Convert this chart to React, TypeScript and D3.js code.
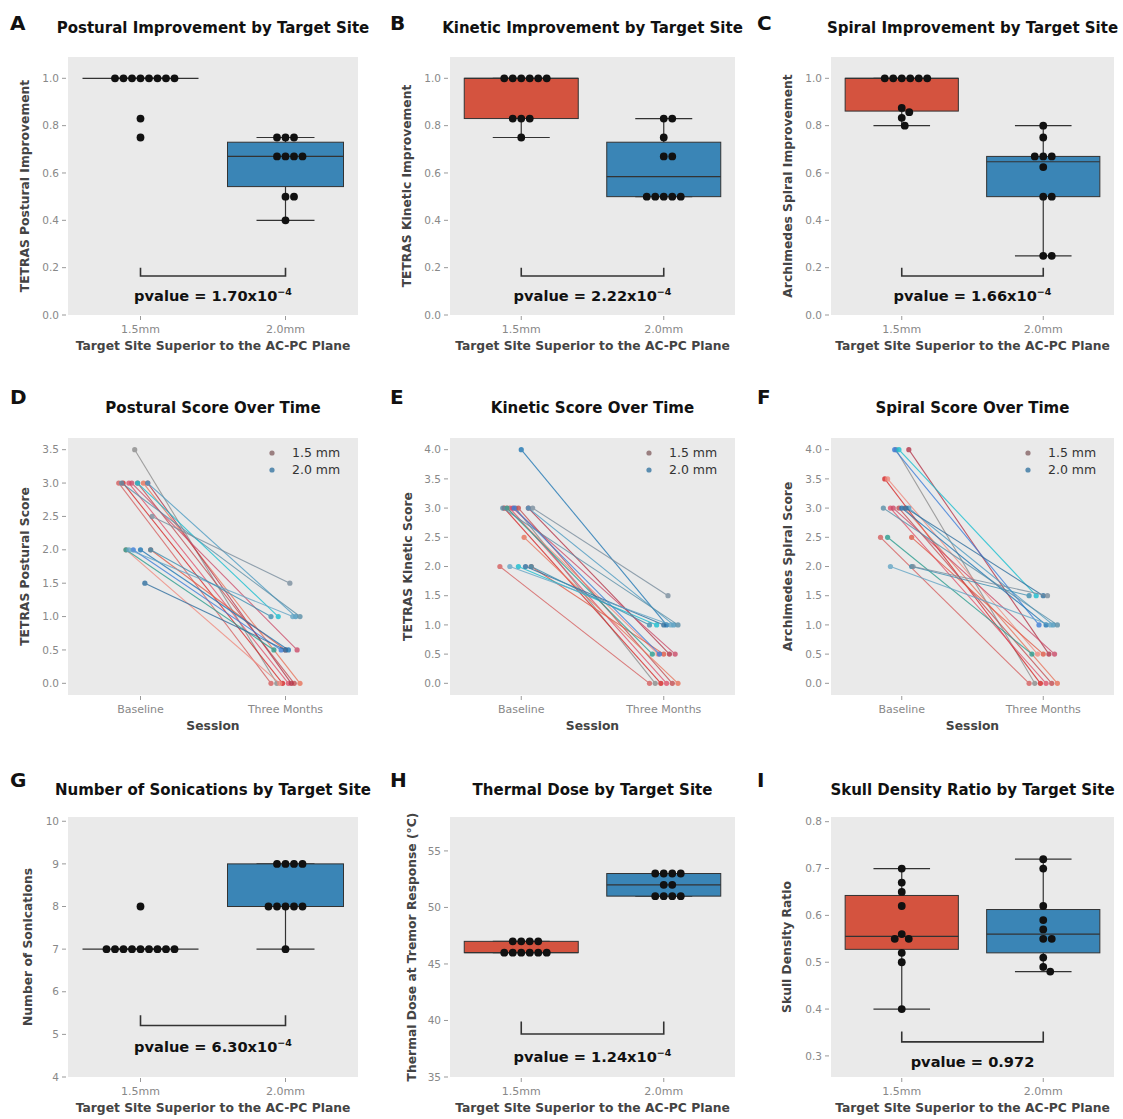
import React from "react";
import * as d3 from "d3";

// ---------- categories ----------
const sites = ["1.5mm", "2.0mm"];
const sessions = ["Baseline", "Three Months"];
const legendLabels = ["1.5 mm", "2.0 mm"];

// ---------- box panels (values per patient) ----------
const posturalImp15 = [1, 1, 1, 1, 1, 1, 1, 1, 0.83, 0.75];
const posturalImp20 = [0.75, 0.75, 0.75, 0.67, 0.67, 0.67, 0.67, 0.5, 0.5, 0.4];
const kineticImp15 = [1, 1, 1, 1, 1, 1, 0.83, 0.83, 0.83, 0.75];
const kineticImp20 = [0.83, 0.83, 0.75, 0.67, 0.67, 0.5, 0.5, 0.5, 0.5, 0.5];
const spiralImp15 = [1, 1, 1, 1, 1, 1, 0.875, 0.857, 0.833, 0.8];
const spiralImp20 = [0.8, 0.75, 0.67, 0.67, 0.67, 0.625, 0.5, 0.5, 0.25, 0.25];
const sonications15 = [7, 7, 7, 7, 7, 7, 7, 7, 7, 8];
const sonications20 = [9, 9, 9, 9, 8, 8, 8, 8, 8, 7];
const thermal15 = [47, 47, 47, 47, 46, 46, 46, 46, 46, 46];
const thermal20 = [53, 53, 53, 53, 52, 52, 51, 51, 51, 51];
const sdr15 = [0.7, 0.67, 0.65, 0.62, 0.56, 0.55, 0.55, 0.52, 0.5, 0.4];
const sdr20 = [0.72, 0.7, 0.62, 0.59, 0.57, 0.55, 0.55, 0.51, 0.49, 0.48];

// p-values (mantissa of x10^-4, or plain)
const pvalueTexts = ["1.70", "2.22", "1.66", "6.30", "1.24", "0.972"];

// ---------- line panels (baseline / three months per patient) ----------
const posturalBase15 = [3.5, 3, 3, 3, 3, 3, 3, 2, 3, 2];
const postural3m15 = [0, 0, 0, 0, 0, 0, 0, 0, 0.5, 0.5];
const posturalBase20 = [2, 2, 2, 3, 3, 3, 1.5, 2, 2, 2.5];
const postural3m20 = [0.5, 0.5, 0.5, 1, 1, 1, 0.5, 1, 1, 1.5];
const kineticBase15 = [3, 3, 3, 3, 2.5, 2, 3, 3, 3, 2];
const kinetic3m15 = [0, 0, 0, 0, 0, 0, 0.5, 0.5, 0.5, 0.5];
const kineticBase20 = [3, 3, 4, 3, 3, 2, 2, 2, 2, 3];
const kinetic3m20 = [0.5, 0.5, 1, 1, 1, 1, 1, 1, 1, 1.5];
const spiralBase15 = [4, 3.5, 3, 3, 3, 2.5, 4, 3.5, 3, 2.5];
const spiral3m15 = [0, 0, 0, 0, 0, 0, 0.5, 0.5, 0.5, 0.5];
const spiralBase20 = [2.5, 4, 3, 3, 3, 4, 3, 2, 2, 2];
const spiral3m20 = [0.5, 1, 1, 1, 1, 1.5, 1.5, 1, 1.5, 1.5];

// horizontal jitter (category units) of each patient's markers
const jitterBase15 = [-0.04, -0.12, -0.08, -0.02, 0.02, -0.15, 0.05, -0.1, -0.06, 0.07];
const jitterBase20 = [-0.1, -0.05, 0.0, 0.05, -0.13, -0.02, 0.03, -0.08, 0.07, 0.08];
const jitter3m15 = [-0.06, -0.02, 0.02, 0.06, 0.1, -0.1, 0.04, -0.04, 0.08, 0.0];
const jitter3m20 = [-0.08, -0.03, 0.02, 0.07, 0.1, -0.05, 0.0, 0.05, -0.1, 0.03];

// ---------- style ----------
const FONT = "DejaVu Sans, sans-serif";
const BG = "#EAEAEA";
const RED = "#d4533f";
const BLUE = "#3a85b6";
const EDGE = "#333333";
const pal15 = ["#8c8c8c", "#d62728", "#e0516a", "#c44e52", "#e8735a", "#d65f5f", "#b5364a", "#f08a7e", "#cc4c6a", "#e05a47"];
const pal20 = ["#2a9d8f", "#3b7dd8", "#1f77b4", "#4c9bc2", "#5a8fa8", "#17becf", "#2f6f9f", "#64a6c6", "#3d8fb0", "#7a8e9e"];
const legendColors = ["#9a7f80", "#5b8db0"];

const colX: [number, number][] = [[68, 358], [450, 735], [831, 1114]];
const rowY: [number, number][] = [[57, 315], [438, 695], [817, 1077]];
const letterX = [10, 390, 757];
const titleDy = [-24, -25, -22];
const letterDy = [-27, -34, -30];

type Frame = {
  col: number; row: number; letter: string; title: string; ylabel: string; ylabelOff: number;
  xlabel: string; xcats: string[]; yDomain: [number, number]; yTicks: number[]; fmt: (v: number) => string;
};

function Axes({ f, y, x }: { f: Frame; y: d3.ScaleLinear<number, number>; x: d3.ScaleLinear<number, number> }) {
  const [x0, x1] = colX[f.col];
  const [y0, y1] = rowY[f.row];
  return (
    <g>
      <rect x={x0} y={y0} width={x1 - x0} height={y1 - y0} fill={BG} />
      {f.yTicks.map((t) => (
        <g key={t}>
          <line x1={x0 - 6} x2={x0 - 2} y1={y(t)} y2={y(t)} stroke="#999" strokeWidth={1} />
          <text x={x0 - 9} y={y(t)} dy="0.35em" textAnchor="end" fontSize={10.5} fill="#888">{f.fmt(t)}</text>
        </g>
      ))}
      {f.xcats.map((c, i) => (
        <g key={c}>
          <line x1={x(i)} x2={x(i)} y1={y1 + 1} y2={y1 + 5} stroke="#999" strokeWidth={1} />
          <text x={x(i)} y={y1 + 18} textAnchor="middle" fontSize={11} fill="#888">{c}</text>
        </g>
      ))}
      <text x={(x0 + x1) / 2} y={y1 + 35} textAnchor="middle" fontSize={12.3} fontWeight="bold" fill="#444">{f.xlabel}</text>
      <text transform={`translate(${x0 - f.ylabelOff},${(y0 + y1) / 2}) rotate(-90)`} textAnchor="middle" dy="0.35em" fontSize={12.3} fontWeight="bold" fill="#444">{f.ylabel}</text>
      <text x={(x0 + x1) / 2} y={y0 + titleDy[f.row]} textAnchor="middle" fontSize={15} fontWeight="bold" fill="#111">{f.title}</text>
      <text x={letterX[f.col]} y={y0 + letterDy[f.row]} fontSize={20} fontWeight="bold" fill="#111">{f.letter}</text>
    </g>
  );
}

function boxStats(vals: number[]) {
  const s = [...vals].sort(d3.ascending);
  const q1 = d3.quantileSorted(s, 0.25) as number;
  const med = d3.quantileSorted(s, 0.5) as number;
  const q3 = d3.quantileSorted(s, 0.75) as number;
  const iqr = q3 - q1;
  const lo = d3.min(s.filter((v) => v >= q1 - 1.5 * iqr - 1e-9)) as number;
  const hi = d3.max(s.filter((v) => v <= q3 + 1.5 * iqr + 1e-9)) as number;
  return { q1, med, q3, lo, hi };
}

function swarm(vals: number[], y: (v: number) => number, cx: number, r: number) {
  const placed: { x: number; y: number }[] = [];
  const ys = vals.map((v) => y(v)).sort((a, b) => a - b);
  const d = 2 * r + 0.5;
  for (const py of ys) {
    let off = 0;
    for (let k = 0; k < 1000; k++) {
      const o = k === 0 ? 0 : (k % 2 ? 1 : -1) * Math.ceil(k / 2) * 0.5;
      if (placed.every((p) => (p.x - (cx + o)) ** 2 + (p.y - py) ** 2 >= d * d)) { off = o; break; }
    }
    placed.push({ x: cx + off, y: py });
  }
  return placed;
}

type BoxPanel = Frame & { groups: number[][]; bracket: [number, number, number]; pval: string; sci: boolean };

function BoxChart({ p }: { p: BoxPanel }) {
  const x = d3.scaleLinear().domain([-0.5, 1.5]).range(colX[p.col]);
  const y = d3.scaleLinear().domain(p.yDomain).range([rowY[p.row][1], rowY[p.row][0]]);
  const bw = x(0.4) - x(0);
  const cw = x(0.2) - x(0);
  const [bLine, bTop, bText] = p.bracket;
  return (
    <g>
      <Axes f={p} x={x} y={y} />
      {p.groups.map((vals, i) => {
        const s = boxStats(vals);
        const cx = x(i);
        const fill = i === 0 ? RED : BLUE;
        return (
          <g key={i}>
            <line x1={cx} x2={cx} y1={y(s.q1)} y2={y(s.lo)} stroke={EDGE} strokeWidth={1.2} />
            <line x1={cx} x2={cx} y1={y(s.q3)} y2={y(s.hi)} stroke={EDGE} strokeWidth={1.2} />
            <line x1={cx - cw} x2={cx + cw} y1={y(s.lo)} y2={y(s.lo)} stroke={EDGE} strokeWidth={1.2} />
            <line x1={cx - cw} x2={cx + cw} y1={y(s.hi)} y2={y(s.hi)} stroke={EDGE} strokeWidth={1.2} />
            <rect x={cx - bw} width={2 * bw} y={y(s.q3)} height={Math.max(0, y(s.q1) - y(s.q3))} fill={fill} stroke={EDGE} strokeWidth={1} />
            <line x1={cx - bw} x2={cx + bw} y1={y(s.med)} y2={y(s.med)} stroke={EDGE} strokeWidth={1.2} />
            {swarm(vals, y, cx, 3.9).map((pt, j) => (
              <circle key={j} cx={pt.x} cy={pt.y} r={3.9} fill="#111" />
            ))}
          </g>
        );
      })}
      <path d={`M${x(0)},${y(bTop)}V${y(bLine)}H${x(1)}V${y(bTop)}`} fill="none" stroke="#333" strokeWidth={1.6} />
      <text x={(x(0) + x(1)) / 2} y={y(bText)} dy="0.35em" textAnchor="middle" fontSize={14.6} fontWeight="bold" fill="#111">
        {p.sci ? (
          <>
            {`pvalue = ${p.pval}x10`}
            <tspan dy={-6} fontSize={9.5}>−4</tspan>
          </>
        ) : `pvalue = ${p.pval}`}
      </text>
    </g>
  );
}

type LinePanel = Frame & { base: number[][]; m3: number[][] };

function LineChart({ p }: { p: LinePanel }) {
  const x = d3.scaleLinear().domain([-0.5, 1.5]).range(colX[p.col]);
  const y = d3.scaleLinear().domain(p.yDomain).range([rowY[p.row][1], rowY[p.row][0]]);
  const jb = [jitterBase15, jitterBase20];
  const jm = [jitter3m15, jitter3m20];
  const pals = [pal15, pal20];
  const line = d3.line<[number, number]>().x((d) => x(d[0])).y((d) => y(d[1]));
  const [, x1] = colX[p.col];
  const yTop = rowY[p.row][0];
  return (
    <g>
      <Axes f={p} x={x} y={y} />
      {p.base.map((bs, g) =>
        bs.map((b, i) => {
          const pts: [number, number][] = [[jb[g][i], b], [1 + jm[g][i], p.m3[g][i]]];
          const c = pals[g][i];
          return (
            <g key={`${g}-${i}`} opacity={0.8}>
              <path d={line(pts) as string} fill="none" stroke={c} strokeWidth={1.1} />
              {pts.map((d, k) => (
                <circle key={k} cx={x(d[0])} cy={y(d[1])} r={2.6} fill={c} />
              ))}
            </g>
          );
        })
      )}
      {legendLabels.map((l, i) => (
        <g key={l}>
          <circle cx={x1 - 86} cy={yTop + 15 + i * 17} r={2.6} fill={legendColors[i]} />
          <text x={x1 - 66} y={yTop + 15 + i * 17} dy="0.35em" fontSize={12.5} fill="#333">{l}</text>
        </g>
      ))}
    </g>
  );
}

const f1 = (v: number) => d3.format(".1f")(v);
const f0 = (v: number) => d3.format("d")(v);
const siteLabel = "Target Site Superior to the AC-PC Plane";
const impTicks = [0, 0.2, 0.4, 0.6, 0.8, 1.0];

const boxPanels: BoxPanel[] = [
  { col: 0, row: 0, letter: "A", title: "Postural Improvement by Target Site", ylabel: "TETRAS Postural Improvement", ylabelOff: 43, xlabel: siteLabel, xcats: sites, yDomain: [0, 1.09], yTicks: impTicks, fmt: f1, groups: [posturalImp15, posturalImp20], bracket: [0.165, 0.2, 0.08], pval: pvalueTexts[0], sci: true },
  { col: 1, row: 0, letter: "B", title: "Kinetic Improvement by Target Site", ylabel: "TETRAS Kinetic Improvement", ylabelOff: 43, xlabel: siteLabel, xcats: sites, yDomain: [0, 1.09], yTicks: impTicks, fmt: f1, groups: [kineticImp15, kineticImp20], bracket: [0.165, 0.2, 0.08], pval: pvalueTexts[1], sci: true },
  { col: 2, row: 0, letter: "C", title: "Spiral Improvement by Target Site", ylabel: "Archimedes Spiral Improvement", ylabelOff: 43, xlabel: siteLabel, xcats: sites, yDomain: [0, 1.09], yTicks: impTicks, fmt: f1, groups: [spiralImp15, spiralImp20], bracket: [0.165, 0.2, 0.08], pval: pvalueTexts[2], sci: true },
  { col: 0, row: 2, letter: "G", title: "Number of Sonications by Target Site", ylabel: "Number of Sonications", ylabelOff: 40, xlabel: siteLabel, xcats: sites, yDomain: [4, 10.1], yTicks: [4, 5, 6, 7, 8, 9, 10], fmt: f0, groups: [sonications15, sonications20], bracket: [5.21, 5.45, 4.7], pval: pvalueTexts[3], sci: true },
  { col: 1, row: 2, letter: "H", title: "Thermal Dose by Target Site", ylabel: "Thermal Dose at Tremor Response (°C)", ylabelOff: 38, xlabel: siteLabel, xcats: sites, yDomain: [35, 58], yTicks: [35, 40, 45, 50, 55], fmt: f0, groups: [thermal15, thermal20], bracket: [38.8, 39.9, 36.8], pval: pvalueTexts[4], sci: true },
  { col: 2, row: 2, letter: "I", title: "Skull Density Ratio by Target Site", ylabel: "Skull Density Ratio", ylabelOff: 44, xlabel: siteLabel, xcats: sites, yDomain: [0.255, 0.81], yTicks: [0.3, 0.4, 0.5, 0.6, 0.7, 0.8], fmt: f1, groups: [sdr15, sdr20], bracket: [0.33, 0.352, 0.287], pval: pvalueTexts[5], sci: false },
];

const linePanels: LinePanel[] = [
  { col: 0, row: 1, letter: "D", title: "Postural Score Over Time", ylabel: "TETRAS Postural Score", ylabelOff: 43, xlabel: "Session", xcats: sessions, yDomain: [-0.175, 3.675], yTicks: [0, 0.5, 1, 1.5, 2, 2.5, 3, 3.5], fmt: f1, base: [posturalBase15, posturalBase20], m3: [postural3m15, postural3m20] },
  { col: 1, row: 1, letter: "E", title: "Kinetic Score Over Time", ylabel: "TETRAS Kinetic Score", ylabelOff: 42, xlabel: "Session", xcats: sessions, yDomain: [-0.2, 4.2], yTicks: [0, 0.5, 1, 1.5, 2, 2.5, 3, 3.5, 4], fmt: f1, base: [kineticBase15, kineticBase20], m3: [kinetic3m15, kinetic3m20] },
  { col: 2, row: 1, letter: "F", title: "Spiral Score Over Time", ylabel: "Archimedes Spiral Score", ylabelOff: 43, xlabel: "Session", xcats: sessions, yDomain: [-0.2, 4.2], yTicks: [0, 0.5, 1, 1.5, 2, 2.5, 3, 3.5, 4], fmt: f1, base: [spiralBase15, spiralBase20], m3: [spiral3m15, spiral3m20] },
];

export default function App() {
  return (
    <svg width={1123} height={1119} style={{ position: "absolute", left: 0, top: 0, background: "#fff" }} fontFamily={FONT}>
      {boxPanels.map((p) => <BoxChart key={p.letter} p={p} />)}
      {linePanels.map((p) => <LineChart key={p.letter} p={p} />)}
    </svg>
  );
}
